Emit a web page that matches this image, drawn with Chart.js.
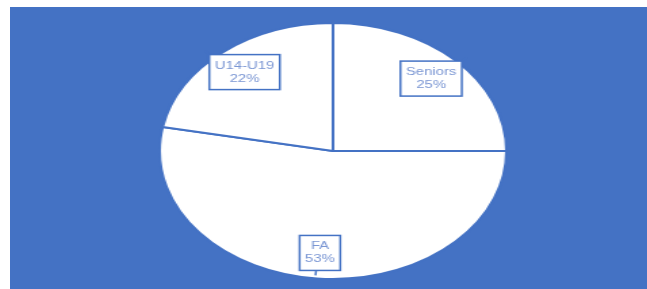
<!DOCTYPE html>
<html>
<head>
<meta charset="utf-8">
<script src="https://cdn.jsdelivr.net/npm/chart.js@4/dist/chart.umd.min.js"></script>
<style>
    html, body { margin: 0; padding: 0; background: #fff; }
    #fondo {
        position: absolute; left: 10px; top: 7px; width: 637px; height: 282px;
        background: #4472C4;
    }
    /* el pastel original esta estirado a lo ancho (elipse) */
    #caja {
        position: absolute; left: 204px; top: 22px; width: 258px; height: 258px;
        transform: scaleX(1.355); transform-origin: 129px 129px;
    }
</style>
</head>
<body>
<div id="fondo"></div>
<div id="caja"><canvas id="graficoPastel"></canvas></div>
<script>
const categorias = ['Seniors', 'FA', 'U14-U19'];
const valores = [25, 53, 22];
const etiquetasPct = ['25%', '53%', '22%'];

const azul = '#4472C4';

// callouts tipo Excel: caja con borde azul y texto en dos lineas
const calloutsPlugin = {
    id: 'callouts',
    afterDatasetsDraw(chart) {
        const ctx = chart.ctx;
        const arcos = chart.getDatasetMeta(0).data;
        ctx.save();
        ctx.font = '11px "Liberation Sans", Arial, sans-serif';
        ctx.textAlign = 'center';
        ctx.textBaseline = 'middle';
        arcos.forEach((arco, i) => {
            const p = arco.getProps(['x', 'y', 'startAngle', 'endAngle', 'outerRadius']);
            const medio = (p.startAngle + p.endAngle) / 2;
            const cx = p.x + Math.cos(medio) * p.outerRadius * 0.8;
            const cy = p.y + Math.sin(medio) * p.outerRadius * 0.8;
            const w = Math.max(ctx.measureText(categorias[i]).width, ctx.measureText(etiquetasPct[i]).width) + 8;
            const h = 35;
            const x0 = cx - w / 2, y0 = cy - h / 2;

            // colita que apunta hacia el borde del pastel
            const dx = Math.cos(medio), dy = Math.sin(medio);
            const bx = Math.max(x0, Math.min(x0 + w, cx + dx * w));
            const by = Math.max(y0, Math.min(y0 + h, cy + dy * h));
            ctx.fillStyle = '#fff';
            ctx.strokeStyle = azul;
            ctx.lineWidth = 1.5;
            ctx.fillRect(x0, y0, w, h);
            ctx.strokeRect(x0, y0, w, h);
            ctx.beginPath();
            ctx.moveTo(bx, by);
            ctx.lineTo(bx + dx * 5, by + dy * 5);
            ctx.stroke();

            ctx.fillStyle = '#7b97d4';
            ctx.fillText(categorias[i], cx, cy - 6.5);
            ctx.fillText(etiquetasPct[i], cx, cy + 6.5);
        });
        ctx.restore();
    }
};

document.addEventListener("DOMContentLoaded", () => {
    const ctx = document.getElementById('graficoPastel').getContext('2d');

    new Chart(ctx, {
        type: 'pie',
        data: {
            labels: categorias,
            datasets: [{
                data: valores,
                backgroundColor: '#ffffff',
                borderColor: azul,
                borderWidth: 2
            }]
        },
        options: {
            responsive: true,
            maintainAspectRatio: false,
            animation: false,
            events: [],
            layout: { padding: 0 },
            plugins: {
                legend: { display: false },
                tooltip: { enabled: false }
            }
        },
        plugins: [calloutsPlugin]
    });
});
</script>
</body>
</html>
